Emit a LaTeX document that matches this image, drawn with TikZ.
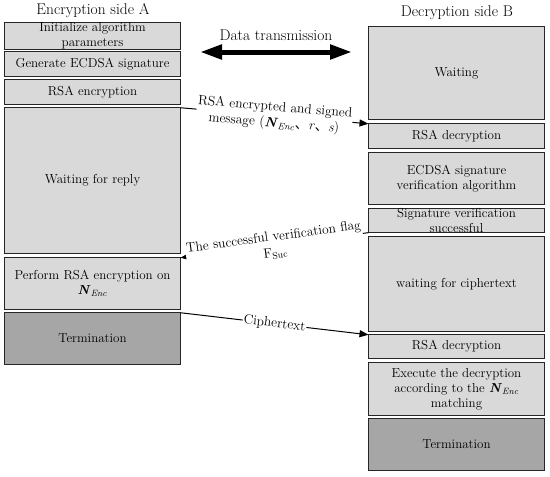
\documentclass[tikz,border=0pt]{standalone}
\usepackage{fontspec}
\newfontfamily\cjk{Noto Sans CJK SC}
\usetikzlibrary{arrows.meta}
\definecolor{boxfill}{HTML}{D9D9D9}
\definecolor{darkfill}{HTML}{A6A6A6}
\definecolor{edge}{HTML}{262626}
\newcommand{\NEnc}{\textbf{\textit{N}}\textsubscript{\textit{Enc}}}
\begin{document}
\begin{tikzpicture}[x=1pt,y=-1pt,
 box/.style={draw=edge, line width=1.2pt, fill=boxfill, minimum width=176pt, inner sep=0pt, outer sep=0pt, align=center, font=\fontsize{13}{15}\selectfont},
 endbox/.style={box, fill=darkfill},
 title/.style={font=\fontsize{15.5}{17}\selectfont},
 msg/.style={-{Triangle[length=9pt,width=7pt]}, line width=1pt, draw=black},
 lbl/.style={sloped, fill=white, inner sep=1pt, align=center, font=\fontsize{13.5}{16}\selectfont}]
\useasboundingbox (0,0) rectangle (550,477);
% titles
\node[title] (ta) at (93,11) {Encryption side A};
\node[title] (tb) at (457,13) {Decryption side B};
\node[font=\fontsize{15.5}{17}\selectfont] (dt) at (276,35) {Data transmission};
\coordinate (dl) at (200,52);
\coordinate (dr) at (352,52);
\draw[line width=5pt, {Triangle[length=22pt,width=14pt]}-{Triangle[length=22pt,width=14pt]}] (dl) -- (dr);
% left column
\node[box, minimum height=24.5pt] (a1) at (92.5,36) {Initialize algorithm\\parameters};
\node[box, minimum height=24.5pt] (a2) at (92.5,64) {Generate ECDSA signature};
\node[box, minimum height=24.5pt] (a3) at (92.5,92) {RSA encryption};
\node[box, minimum height=145.5pt] (a4) at (92.5,180.5) {Waiting for reply};
\node[box, minimum height=51.5pt] (a5) at (92.5,283.5) {Perform RSA encryption on\\\NEnc};
\node[endbox, minimum height=51.5pt] (a6) at (92.5,338.5) {Termination};
% right column
\node[box, minimum height=92.5pt] (b1) at (456.5,73) {Waiting};
\node[box, minimum height=24.5pt] (b2) at (456.5,136) {RSA decryption};
\node[box, minimum height=51.5pt] (b3) at (456.5,178.5) {ECDSA signature\\verification algorithm};
\node[box, minimum height=23.5pt] (b4) at (456.5,220.5) {Signature verification\\successful};
\node[box, minimum height=94.5pt] (b5) at (456.5,284) {waiting for ciphertext};
\node[box, minimum height=23.5pt] (b6) at (456.5,346.5) {RSA decryption};
\node[box, minimum height=52.5pt] (b7) at (456.5,389) {Execute the decryption\\according to the \NEnc\\matching};
\node[endbox, minimum height=51.5pt] (b8) at (456.5,444.5) {Termination};
% messages
\draw[msg] (a4.north east) -- node[lbl] {RSA encrypted and signed\\message (\NEnc{\cjk 、}\textit{r}{\cjk 、}\textit{s})} (b2.north west);
\draw[msg] (b4.south west) -- node[lbl] {The successful verification flag\\F\textsubscript{Suc}} (a5.north east);
\draw[msg] (a6.north east) -- node[lbl] {Ciphertext} (b6.north west);
\end{tikzpicture}
\end{document}
